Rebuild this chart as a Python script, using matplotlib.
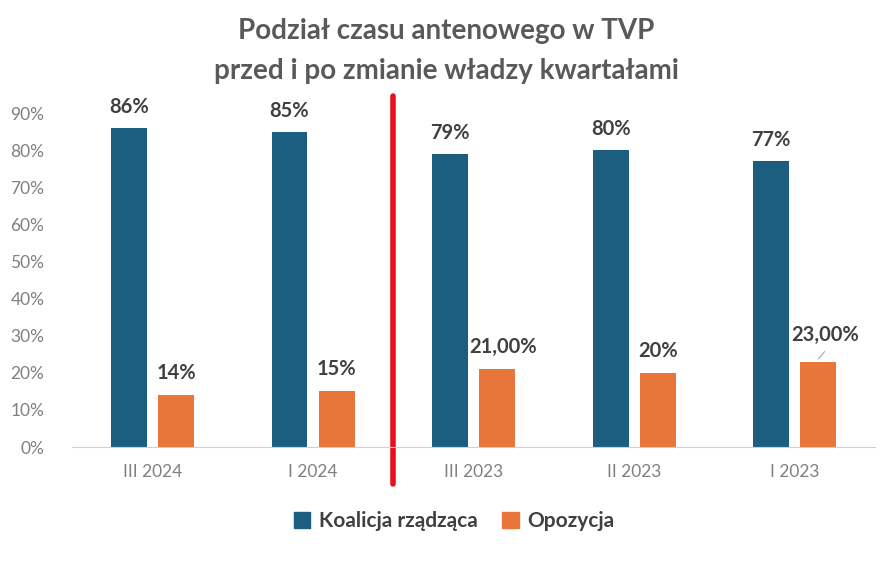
import matplotlib.pyplot as plt
import numpy as np
from matplotlib.patches import Patch

quarters = ['III 2024', 'I 2024', 'III 2023', 'II 2023', 'I 2023']
koalicja = [86, 85, 79, 80, 77]
opozycja = [14, 15, 21, 20, 23]
koalicja_labels = ['86%', '85%', '79%', '80%', '77%']
opozycja_labels = ['14%', '15%', '21,00%', '20%', '23,00%']

blue = '#1b5e80'
orange = '#e8763a'
label_col = '#404040'
tick_col = '#808080'

plt.rcParams['font.family'] = ['Lato', 'DejaVu Sans']

fig = plt.figure(figsize=(8.92, 5.64), dpi=100)
ax = fig.add_axes([0.081, 0.2074, 0.9, 0.5922])

x = np.arange(len(quarters))
w = 0.224
off = 0.147
ax.bar(x - off, koalicja, width=w, color=blue, label='Koalicja rządząca')
ax.bar(x + off, opozycja, width=w, color=orange, label='Opozycja')

for i in range(len(quarters)):
    ax.annotate(koalicja_labels[i], (x[i] - off, koalicja[i]), xytext=(0, 15),
                textcoords='offset points', ha='center', va='center',
                fontsize=14.5, fontweight='bold', color=label_col)
    dx = 0
    if len(opozycja_labels[i]) > 4:
        dx = 4
    dy = 16
    if i == 4:
        dy = 19
        dx = 5
    ax.annotate(opozycja_labels[i], (x[i] + off, opozycja[i]), xytext=(dx, dy),
                textcoords='offset points', ha='center', va='center',
                fontsize=14.5, fontweight='bold', color=label_col)

# leader line for the last label
ax.annotate('', xy=(x[4] + off - 0.01, opozycja[4] + 0.2), xytext=(x[4] + off + 0.05, opozycja[4] + 3.3),
            arrowprops=dict(arrowstyle='-', color='#a6a6a6', lw=0.8))

ax.set_xlim(-0.5, 4.5)
ax.set_ylim(0, 90)
ax.set_yticks(range(0, 91, 10))
ax.set_yticklabels([f'{v}%' for v in range(0, 91, 10)])
ax.set_xticks(x)
ax.set_xticklabels(quarters)
ax.tick_params(axis='both', length=0, labelsize=12.5, colors=tick_col, pad=12)
ax.tick_params(axis='y', pad=20)
for s in ['top', 'right', 'left']:
    ax.spines[s].set_visible(False)
ax.spines['bottom'].set_color('#d0d0d0')

# red divider between before/after
ax.plot([1.5, 1.5], [-0.11, 1.05], color='#e8101c', lw=4, solid_capstyle='round',
        transform=ax.get_xaxis_transform(), clip_on=False)

fig.text(0.5, 0.945, 'Podział czasu antenowego w TVP', ha='center', va='center',
         fontsize=20, fontweight='bold', color='#595959')
fig.text(0.5, 0.875, 'przed i po zmianie władzy kwartałami', ha='center', va='center',
         fontsize=20, fontweight='bold', color='#595959')

handles = [Patch(color=blue, label='Koalicja rządząca'), Patch(color=orange, label='Opozycja')]
fig.legend(handles=handles, loc='center', bbox_to_anchor=(0.509, 0.076), ncol=2, frameon=False,
           handlelength=0.8, handleheight=0.8, handletextpad=0.4, columnspacing=1.2,
           labelcolor=label_col, prop={'weight': 'bold', 'size': 15})

fig.savefig('out.png', dpi=100)
